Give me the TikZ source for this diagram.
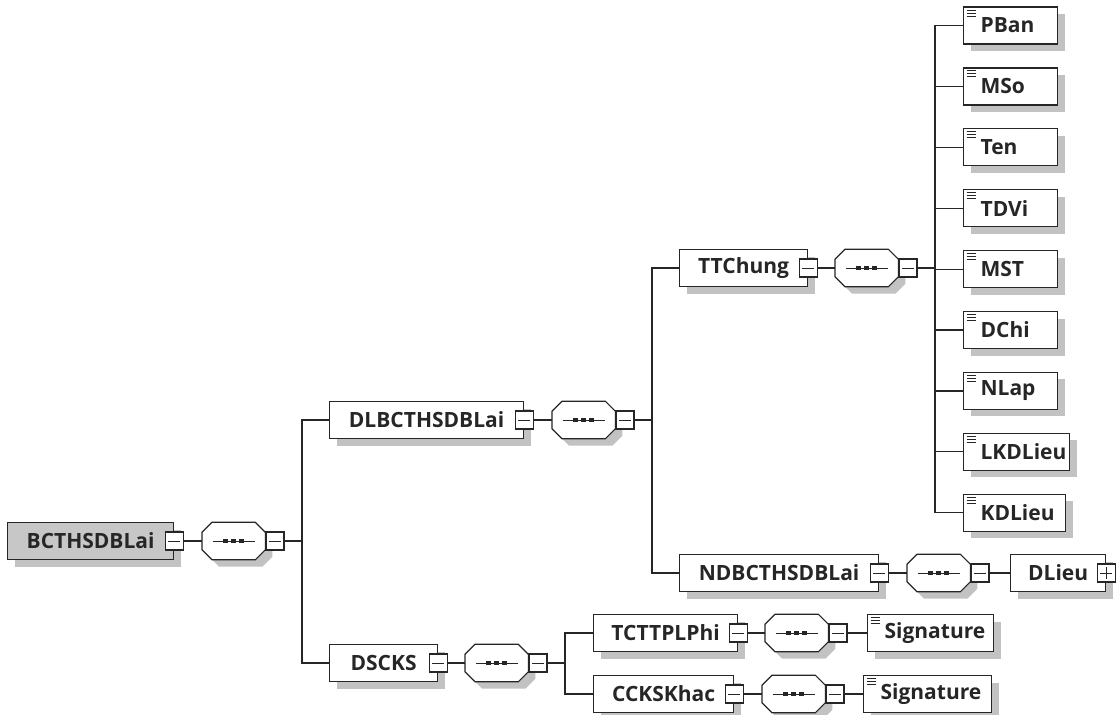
\documentclass[tikz,border=0pt]{standalone}
\usepackage{fontspec}
\setmainfont{Open Sans}
\usepackage{tikz}
\usetikzlibrary{shadows,positioning}

\tikzset{
  boxshadow/.style={drop shadow={shadow xshift=7pt,shadow yshift=-7pt,fill=black!24,opacity=1}},
  elem/.style={draw=black!85,line width=1.2pt,fill=white,minimum height=37pt,inner sep=0pt,
    font=\fontsize{21}{24}\selectfont\bfseries,text=black!85,boxshadow},
  cplx/.style={elem,anchor=west,minimum width=#1},
  leafel/.style={elem,anchor=west,text width=#1,align=left,execute at begin node=\hspace*{17pt},
    path picture={\foreach \dy in {3,6,9}
      \draw[line width=1pt] ([xshift=3pt,yshift=-\dy pt]path picture bounding box.north west) -- ++(9pt,0);}},
  msq/.style={draw=black!85,line width=1.1pt,fill=white,minimum size=18pt,inner sep=0pt,
    path picture={\draw[line width=1pt] ([xshift=3pt]path picture bounding box.west) -- ([xshift=-3pt]path picture bounding box.east);}},
  psq/.style={msq,
    path picture={\draw[line width=1pt] ([xshift=3pt]path picture bounding box.west) -- ([xshift=-3pt]path picture bounding box.east);
      \draw[line width=1pt] ([yshift=-3pt]path picture bounding box.north) -- ([yshift=3pt]path picture bounding box.south);}},
  seqbox/.style={rectangle,minimum width=63pt,minimum height=37pt,inner sep=0pt,anchor=west},
  seqline/.style={draw=black!85,line width=1.2pt,fill=white},
  conn/.style={draw=black!85,line width=1.2pt}
}

% octagon of a sequence compositor
\newcommand{\octpath}[1]{([xshift=10pt]#1.north west) -- ([xshift=-10pt]#1.north east) -- ([yshift=-10pt]#1.north east)
  -- ([yshift=10pt]#1.south east) -- ([xshift=-10pt]#1.south east) -- ([xshift=10pt]#1.south west)
  -- ([yshift=10pt]#1.south west) -- ([yshift=-10pt]#1.north west) -- cycle}
\newcommand{\seqnode}[3]{%
  \node[seqbox] (#1) at (#2,#3) {};
  \fill[black!24,transform canvas={xshift=7pt,yshift=-7pt}] \octpath{#1};
  \path[seqline] \octpath{#1};
  \draw[line width=1pt,black!85] ([xshift=-21pt]#1.center) -- ([xshift=21pt]#1.center);
  \foreach \dx in {-8,0,8}
    \fill[black!85] ([xshift=\dx pt-2.6pt,yshift=-2.4pt]#1.center) rectangle ([xshift=\dx pt+2.6pt,yshift=2.4pt]#1.center);
  \node[msq,anchor=west] (#1-m) at (#1.east) {};}

\begin{document}
\begin{tikzpicture}[x=1pt,y=-1pt]
    \useasboundingbox (0,0) rectangle (1117,715);

    % Root element
    \node[cplx=166,fill=black!22] (bcths) at (7,541) {BCTHSDBLai};
    \node[msq] (bcths-m) at (bcths.east) {};
    \seqnode{seq0}{202}{541}
    \coordinate (j0) at (302,541);

    % DLBCTHSDBLai
    \node[cplx=194] (dlb) at (329,420) {DLBCTHSDBLai};
    \node[msq] (dlb-m) at (dlb.east) {};
    \seqnode{seq1}{552}{420}
    \coordinate (j1) at (652,420);

    % TTChung and its simple elements
    \node[cplx=128] (ttc) at (679,268) {TTChung};
    \node[msq] (ttc-m) at (ttc.east) {};
    \seqnode{seq3}{835}{268}
    \coordinate (j3) at (935,268);
    \foreach \nm/\w [count=\k from 0] in {PBan/94,MSo/94,Ten/94,TDVi/94,MST/94,DChi/94,NLap/94,LKDLieu/106,KDLieu/102}
        \node[leafel=\w pt] (\nm) at (963,{25.5+60.9*\k}) {\nm};

    % NDBCTHSDBLai
    \node[cplx=199] (ndb) at (679,573) {NDBCTHSDBLai};
    \node[msq] (ndb-m) at (ndb.east) {};
    \seqnode{seq4}{907}{573}
    \node[cplx=95] (dlieu) at (1010,573) {DLieu};
    \node[psq] (dlieu-p) at (dlieu.east) {};

    % DSCKS
    \node[cplx=108] (dsc) at (329,663) {DSCKS};
    \node[msq] (dsc-m) at (dsc.east) {};
    \seqnode{seq2}{465}{663}
    \coordinate (j2) at (565,663);

    \node[cplx=144] (tct) at (593,633) {TCTTPLPhi};
    \node[msq] (tct-m) at (tct.east) {};
    \seqnode{seq5}{765}{633}
    \node[leafel=126pt] (sig1) at (867,633) {Signature};

    \node[cplx=140] (cck) at (593,694) {CCKSKhac};
    \node[msq] (cck-m) at (cck.east) {};
    \seqnode{seq6}{762}{694}
    \node[leafel=128pt] (sig2) at (863,694) {Signature};

    % Connectors
    \draw[conn] (bcths-m.east) -- (seq0.west);
    \draw[conn] (seq0-m.east) -- (j0);
    \draw[conn] (dlb.west) -| (j0);
    \draw[conn] (dsc.west) -| (j0);
    \draw[conn] (dlb-m.east) -- (seq1.west);
    \draw[conn] (seq1-m.east) -- (j1);
    \draw[conn] (ttc.west) -| (j1);
    \draw[conn] (ndb.west) -| (j1);
    \draw[conn] (ttc-m.east) -- (seq3.west);
    \draw[conn] (seq3-m.east) -- (j3);
    \foreach \nm in {PBan,MSo,Ten,TDVi,MST,DChi,NLap,LKDLieu,KDLieu}
        \draw[conn] (\nm.west) -| (j3);
    \draw[conn] (ndb-m.east) -- (seq4.west);
    \draw[conn] (seq4-m.east) -- (dlieu.west);
    \draw[conn] (dsc-m.east) -- (seq2.west);
    \draw[conn] (seq2-m.east) -- (j2);
    \draw[conn] (tct.west) -| (j2);
    \draw[conn] (cck.west) -| (j2);
    \draw[conn] (tct-m.east) -- (seq5.west);
    \draw[conn] (seq5-m.east) -- (sig1.west);
    \draw[conn] (cck-m.east) -- (seq6.west);
    \draw[conn] (seq6-m.east) -- (sig2.west);
\end{tikzpicture}
\end{document}
